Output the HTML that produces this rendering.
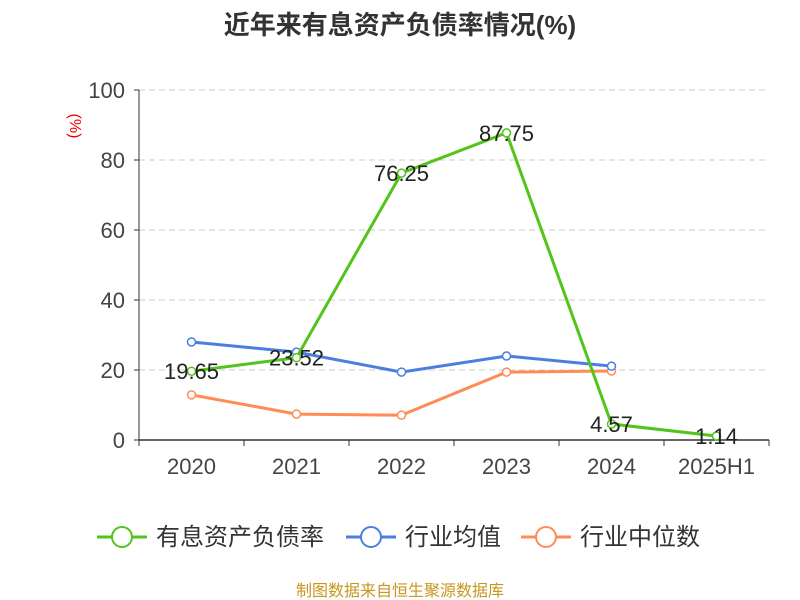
<!DOCTYPE html>
<html><head><meta charset="utf-8"><style>
body{margin:0;background:#fff;}
svg{display:block;font-family:"Liberation Sans","Noto Sans CJK SC",sans-serif;}
</style></head><body>
<svg id="c" width="800" height="600">
<text x="400" y="34" text-anchor="middle" font-size="26" font-weight="bold" fill="#333">近年来有息资产负债率情况(%)</text>
<text x="70" y="126" text-anchor="middle" font-size="16" fill="#e00" transform="rotate(90 70 126)">(%)</text>
<g id="grid"></g>
<g id="series"></g>
<g id="legend"></g>
<text x="400" y="596" text-anchor="middle" font-size="16" fill="#c8961e">制图数据来自恒生聚源数据库</text>
</svg>
<script>
const categories=["2020","2021","2022","2023","2024","2025H1"];
const yTicks=[0,20,40,60,80,100];
const seriesNames=["有息资产负债率","行业均值","行业中位数"];
const debtRatio=[19.65,23.52,76.25,87.75,4.57,1.14];
const industryMean=[28.0,25.1,19.4,24.0,21.1,null];
const industryMedian=[12.9,7.4,7.1,19.4,19.7,null];
const colors=["#52c41a","#4a7fe0","#ff8c55"];
const NS="http://www.w3.org/2000/svg";
const x0=139,x1=769,y0=440,y1=90;
const bw=(x1-x0)/categories.length;
const X=i=>x0+bw*(i+0.5);
const Y=v=>y0-(v/100)*(y0-y1);
function mk(t,a,p){const e=document.createElementNS(NS,t);for(const k in a)e.setAttribute(k,a[k]);p.appendChild(e);return e;}
const g=document.getElementById('grid');
yTicks.forEach(v=>{
 if(v>0){const l=mk('line',{x1:x0,x2:x1,y1:Y(v),y2:Y(v),stroke:'#ccc','stroke-dasharray':'6,4'},g);
 
 }
 const tk=mk('line',{x1:x0-5,x2:x0,y1:Y(v),y2:Y(v),stroke:'#333'},g);
 
 
 const t=mk('text',{x:x0-14,y:Y(v)+8,'text-anchor':'end','font-size':22,fill:'#444'},g);t.textContent=v;
 
 
});
const ya=mk('line',{x1:x0,x2:x0,y1:y1,y2:y0,stroke:'#333'},g);


const xa=mk('line',{x1:x0,x2:x1,y1:y0,y2:y0,stroke:'#333','stroke-width':1.5},g);


for(let i=0;i<=categories.length;i++){const tk=mk('line',{x1:x0+bw*i,x2:x0+bw*i,y1:y0,y2:y0+6,stroke:'#333'},g);
 
 }
categories.forEach((c,i)=>{const t=mk('text',{x:X(i),y:y0+34,'text-anchor':'middle','font-size':22,fill:'#444'},g);t.textContent=c;
 
 });
const s=document.getElementById('series');
[[industryMedian,2],[industryMean,1],[debtRatio,0]].forEach(([d,ci])=>{
 const pts=[];d.forEach((v,i)=>{if(v!=null)pts.push([X(i),Y(v)]);});
 const pl=mk('polyline',{points:pts.map(p=>p.join(',')).join(' '),fill:'none',stroke:colors[ci],'stroke-width':3},s);
 
 
 pts.forEach(p=>{const c=mk('circle',{cx:p[0],cy:p[1],r:4,fill:'#fff',stroke:colors[ci],'stroke-width':1.5},s);
  
  });
});
debtRatio.forEach((v,i)=>{const t=mk('text',{x:X(i),y:Y(v)+8,'text-anchor':'middle','font-size':22,fill:'#222'},s);t.textContent=v.toFixed(2);
 
 });
const lg=document.getElementById('legend');
const lx=[97,346,521];
seriesNames.forEach((n,i)=>{
 const l=mk('line',{x1:lx[i],x2:lx[i]+50,y1:537,y2:537,stroke:colors[i],'stroke-width':3},lg);
 
 
 const c=mk('circle',{cx:lx[i]+25,cy:537,r:10,fill:'#fff',stroke:colors[i],'stroke-width':2},lg);
 
 
 const t=mk('text',{x:lx[i]+59,y:545,'font-size':24,fill:'#333'},lg);t.textContent=n;
 
 
});
</script>
</body></html>
